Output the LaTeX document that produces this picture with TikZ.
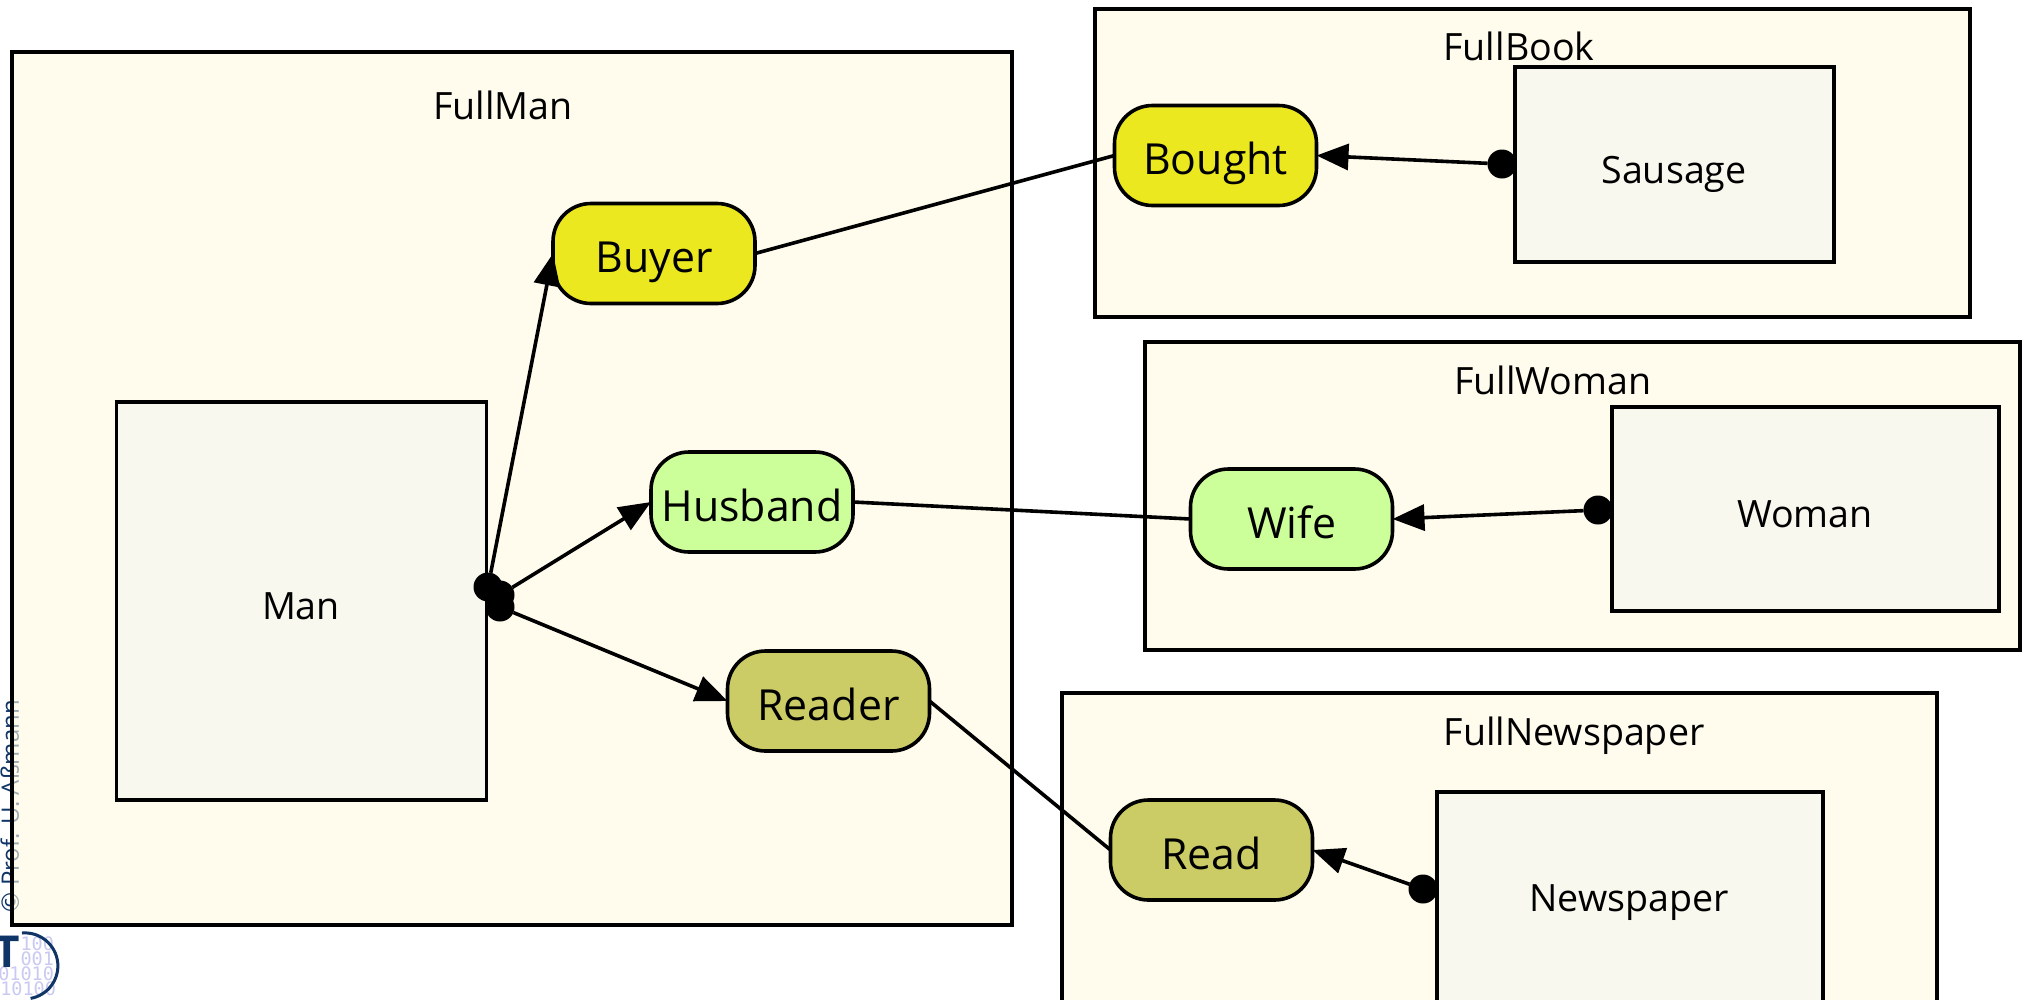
\documentclass[tikz,border=0pt]{standalone}
\usepackage{fontspec}
\setmainfont{Open Sans}
\newfontfamily\digitfont{DejaVu Sans Mono}
\usetikzlibrary{arrows.meta}
\definecolor{frame}{HTML}{FFFCEE}
\definecolor{frameT}{HTML}{FFFAE3}
\definecolor{inner}{HTML}{F8F8EE}
\definecolor{roleY}{HTML}{EBE81F}
\definecolor{roleG}{HTML}{CCFF99}
\definecolor{roleO}{HTML}{CCCC66}
\definecolor{tudblue}{HTML}{0F3566}
\definecolor{tudpale}{HTML}{C9C9F2}
\tikzset{
  x=1pt,y=-1pt,
  every node/.style={inner sep=0pt,outer sep=0pt},
  compartment/.style={draw=black,line width=3.6pt,fill=frame,minimum width=#1},
  lbl/.style={font=\fontsize{37.6}{40}\selectfont,text=black,text height=27pt,text depth=0pt},
  core/.style={draw=black,line width=3.6pt,fill=inner},
  role/.style={draw=black,line width=3.6pt,rounded corners=38pt,minimum width=202pt,minimum height=100pt,font=\fontsize{42.8}{46}\selectfont,fill=#1,text height=38pt,text depth=0pt},
  dotn/.style={circle,fill=black,minimum size=29pt},
  conn/.style={draw=black,line width=3.6pt},
  plays/.style={conn,-{Triangle[length=32pt,width=26pt]}},
  digits/.style={font=\digitfont\fontsize{18.5}{19}\selectfont,text=tudpale,anchor=base east}
}
\begin{document}
\begin{tikzpicture}
\useasboundingbox (0,0) rectangle (2026,999);
\clip (0,0) rectangle (2026,999);
\fill[white] (0,0) rectangle (2026,999);
% footer mark
\node[rotate=90,anchor=base west,text=tudblue,font=\fontsize{24}{30}\selectfont] (copy) at (19,912) {© Prof. U. Aßmann};
\node[digits] (d1) at (54,950) {100};
\node[digits] (d2) at (54,965) {001};
\node[digits] (d3) at (54,980) {01010};
\node[digits] (d4) at (56,995) {10100};
\node[anchor=base east,text=tudblue,font=\fontsize{44}{44}\bfseries\selectfont] (st) at (20,967) {ST};
\draw[tudblue,line width=3pt] (22,933) arc[start angle=95,end angle=-80,radius=33pt];
% compartments
\node[compartment=1000pt,minimum height=873pt,fill=frameT,fill opacity=.6] (fullman) at (512,488.5) {};
\node[compartment=875pt,minimum height=308pt] (fullbook) at (1532.5,163) {};
\node[compartment=875pt,minimum height=308pt] (fullwoman) at (1582.5,496) {};
\node[compartment=875pt,minimum height=340pt] (fullnews) at (1499.5,863) {};
% labels
\node[lbl] (lman) at (503,106) {FullMan};
\node[lbl] (lbook) at (1519,47) {FullBook};
\node[lbl] (lwoman) at (1553,380.5) {FullWoman};
\node[lbl] (lnews) at (1574,732) {FullNewspaper};
% cores
\node[core,minimum width=370pt,minimum height=398pt] (man) at (301.5,601) {};
\node[lbl] at (301,605.5) {Man};
\node[core,minimum width=319pt,minimum height=195pt] (sausage) at (1674.5,164.5) {};
\node[lbl] at (1674,170) {Sausage};
\node[core,minimum width=387pt,minimum height=204pt] (woman) at (1805.5,509) {};
\node[lbl] at (1805,513.5) {Woman};
\node[core,minimum width=386pt,minimum height=240pt] (newspaper) at (1630,912) {};
\node[lbl] at (1629,897.5) {Newspaper};
% roles
\node[role=roleY] (buyer) at (654,253.5) {Buyer};
\node[role=roleG] (husband) at (752,502) {Husband};
\node[role=roleO] (reader) at (828.5,701) {Reader};
\node[role=roleY] (bought) at (1215.5,155.5) {Bought};
\node[role=roleG] (wife) at (1291.5,519) {Wife};
\node[role=roleO] (read) at (1211.5,850) {Read};
% connectors
\draw[conn] (buyer.east) -- (bought.west);
\draw[conn] (husband.east) -- (wife.west);
\draw[conn] (reader.east) -- (read.west);
\node[dotn] (p1) at (488,587) {};
\node[dotn] (p2) at (500,595) {};
\node[dotn] (p3) at (500,607) {};
\node[dotn] (p4) at (1502,164) {};
\node[dotn] (p5) at (1598,510) {};
\node[dotn] (p6) at (1423,889) {};
\draw[plays] (p1) -- (buyer.west);
\draw[plays] (p2) -- (husband.west);
\draw[plays] (p3) -- (reader.west);
\draw[plays] (p4) -- (bought.east);
\draw[plays] (p5) -- (wife.east);
\draw[plays] (p6) -- (read.east);
\end{tikzpicture}
\end{document}
